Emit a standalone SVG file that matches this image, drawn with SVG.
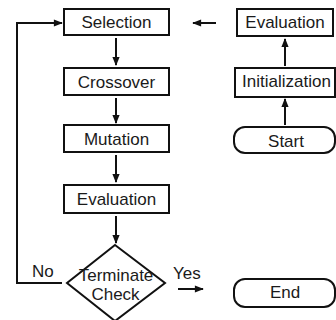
<svg xmlns="http://www.w3.org/2000/svg" width="336" height="320" viewBox="0 0 336 320">
<defs>
<marker id="ah" viewBox="0 0 10 8" refX="9" refY="4" markerWidth="9" markerHeight="7.2" markerUnits="userSpaceOnUse" orient="auto" overflow="visible">
<path d="M0,0 L10,4 L0,8 Z" fill="#111"/>
</marker>
<style>
.b{fill:#fff;stroke:#111;stroke-width:2}
.t{font-family:"Liberation Sans",Arial,sans-serif;font-size:17px;fill:#1a1a1a;text-anchor:middle}
.l{font-family:"Liberation Sans",Arial,sans-serif;font-size:17px;fill:#1a1a1a}
.a{fill:none;stroke:#111;stroke-width:2;marker-end:url(#ah)}
</style>
</defs>
<rect width="336" height="320" fill="#fff"/>
<g id="connectors">
<line class="a" x1="116" y1="38" x2="116" y2="65"/>
<line class="a" x1="116" y1="98" x2="116" y2="123"/>
<line class="a" x1="116" y1="155" x2="116" y2="182"/>
<line class="a" x1="116" y1="216" x2="116" y2="243"/>
<line class="a" x1="285" y1="125" x2="285" y2="99"/>
<line class="a" x1="285" y1="66" x2="285" y2="39"/>
<line class="a" x1="216" y1="23" x2="193" y2="23"/>
<polyline class="a" points="62,283 17,283 17,23 62,23"/>
<line class="a" x1="178" y1="289" x2="203" y2="289"/>
<text class="l" x="32" y="277">No</text>
<text class="l" x="173" y="279">Yes</text>
</g>
<g id="selection"><rect class="b" x="64" y="9" width="105" height="26"/><text class="t" x="116.5" y="28">Selection</text></g>
<g id="crossover"><rect class="b" x="64" y="68" width="105" height="27"/><text class="t" x="116.5" y="88">Crossover</text></g>
<g id="mutation"><rect class="b" x="64" y="125" width="105" height="27"/><text class="t" x="116.5" y="145">Mutation</text></g>
<g id="evaluation2"><rect class="b" x="64" y="185" width="105" height="28"/><text class="t" x="116.5" y="205">Evaluation</text></g>
<g id="terminate"><polygon class="b" points="115,245 165,283 115,321 67,283"/><text class="t" x="116" y="281">Terminate</text><text class="t" x="115.5" y="300">Check</text></g>
<g id="evaluation1"><rect class="b" x="237" y="9" width="96" height="27"/><text class="t" x="285" y="28">Evaluation</text></g>
<g id="initialization"><rect class="b" x="235" y="68" width="100" height="29"/><text class="t" x="286.5" y="87">Initialization</text></g>
<g id="start"><rect class="b" x="234" y="127" width="101" height="26" rx="11"/><text class="t" x="286" y="147">Start</text></g>
<g id="end"><rect class="b" x="234" y="279" width="101" height="28" rx="11"/><text class="t" x="285" y="298">End</text></g>
</svg>
